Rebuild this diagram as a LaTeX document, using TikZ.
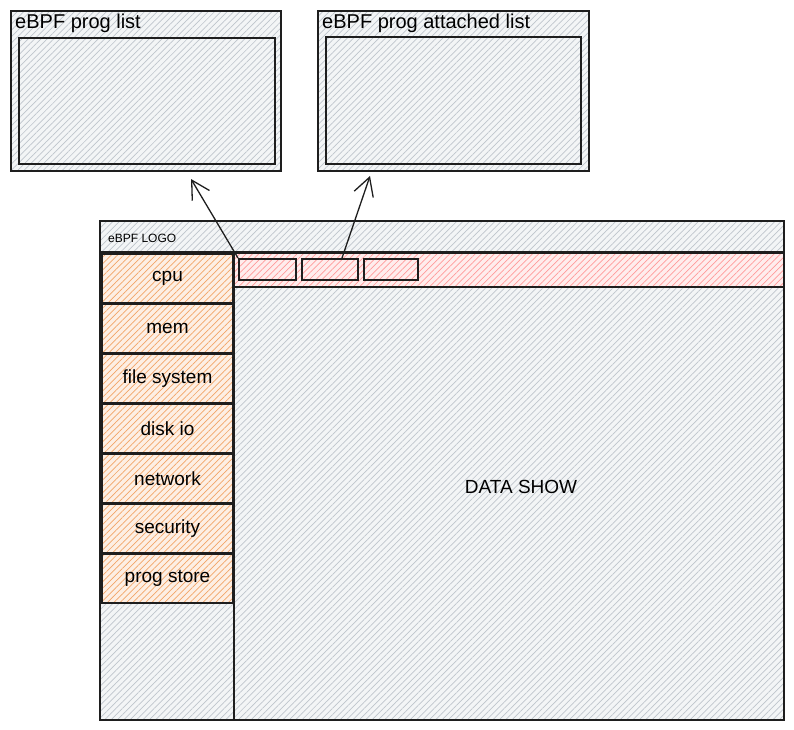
\documentclass[tikz,border=0pt]{standalone}
\usepackage{fontspec}
\setmainfont{Liberation Sans}
\usetikzlibrary{arrows.meta,positioning,patterns.meta}
\definecolor{Ink}{HTML}{1E1E1E}
\definecolor{Slate}{HTML}{BFC5CC}
\definecolor{Peach}{HTML}{F2A567}
\definecolor{Rose}{HTML}{FF9A9A}
\tikzset{
  panel/.style={draw=Ink, line width=2pt, inner sep=0pt, anchor=north west,
    preaction={fill=#1!18},
    preaction={pattern={Lines[angle=45,distance=4.5pt,line width=0.7pt]}, pattern color=#1}},
  panel/.default={Slate},
  menuitem/.style={panel=Peach, minimum width=131, minimum height=49,
    font=\fontsize{19}{22}\selectfont},
  tabbox/.style={panel=Rose, minimum width=56, minimum height=21},
  caption/.style={anchor=north west, inner sep=0pt, font=\fontsize{20}{24}\selectfont},
  openarr/.style={-{Straight Barb[length=18pt,width=20pt]}, line width=1.3pt, color=Ink},
}

\begin{document}
\begin{tikzpicture}[x=1pt, y=-1pt]
  \useasboundingbox (0,0) rectangle (794,729);
  % popup lists
  \node[panel, minimum width=270, minimum height=160] (list) at (10,10) {};
  \node[caption] (listtitle) at (15,14) {eBPF prog list};
  \node[panel, minimum width=256, minimum height=126] (listview) at (18,37) {};
  \node[panel, minimum width=271, minimum height=160] (attached) at (317,10) {};
  \node[caption] (attachedtitle) at (322,14) {eBPF prog attached list};
  \node[panel, minimum width=255, minimum height=127] (attachedview) at (325,36) {};
  % main window
  \node[panel, minimum width=684, minimum height=499] (win) at (99,220) {};
  \node[panel, minimum width=684, minimum height=31] (bar) at (99,220) {};
  \node[anchor=west, inner sep=0pt, font=\fontsize{12}{14}\selectfont] (logo) at (108,238) {eBPF LOGO};
  \node[panel, minimum width=134, minimum height=468] (side) at (99,251) {};
  \foreach \name/\txt [count=\i] in {cpu/cpu, mem/mem, fs/file system, disk/disk io,
      net/network, sec/security, store/prog store}
    \node[menuitem] (\name) at (101,{253+(\i-1)*50}) {\txt};
  \node[panel=Rose, minimum width=550, minimum height=34] (tabs) at (233,252) {};
  \node[tabbox, minimum width=57] (tab1) at (238,258) {};
  \node[tabbox, right=4 of tab1] (tab2) {};
  \node[tabbox, minimum width=54, right=4 of tab2] (tab3) {};
  \node[panel, minimum width=550, minimum height=433] (data) at (233,286) {};
  \node[font=\fontsize{19}{22}\selectfont] (datashow) at (521,487) {DATA SHOW};
  % links to popups
  \coordinate (listin) at (191,179);
  \coordinate (attachedin) at (370,176);
  \draw[openarr] (tab1.north west) -- (listin);
  \draw[openarr] ([xshift=12]tab2.north) -- (attachedin);
\end{tikzpicture}
\end{document}
